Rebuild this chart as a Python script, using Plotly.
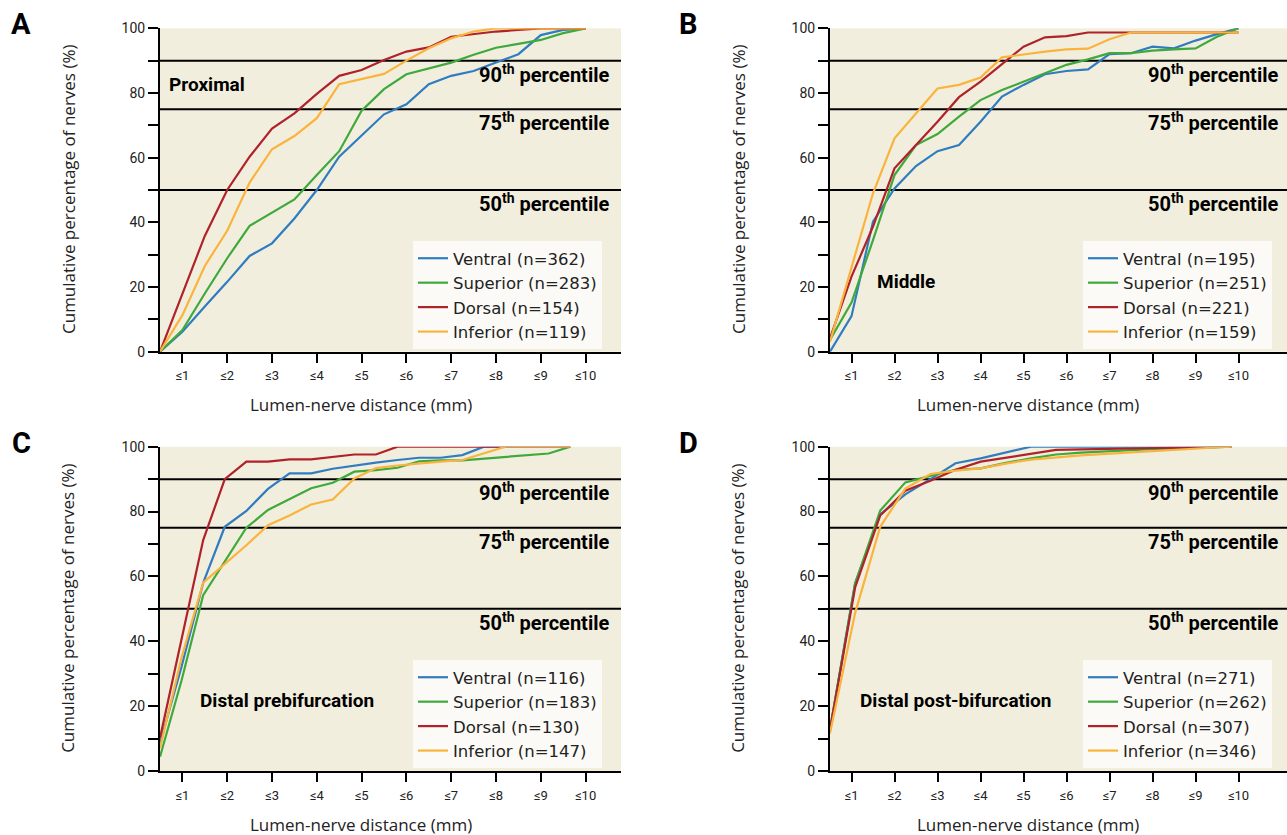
import plotly.graph_objects as go

# ---------------- data ----------------
distance_ticks = [1, 2, 3, 4, 5, 6, 7, 8, 9, 10]
distance_labels = ["≤1", "≤2", "≤3", "≤4", "≤5", "≤6", "≤7", "≤8", "≤9", "≤10"]
pct_ticks = [0, 20, 40, 60, 80, 100]
pct_labels = ["0", "20", "40", "60", "80", "100"]
pct_minor_ticks = [10, 30, 50, 70, 90]
series_names = ["Ventral", "Superior", "Dorsal", "Inferior"]
series_colors = ["#2f7dc0", "#3fa93c", "#b0222a", "#fab33c"]
percentiles = [90, 75, 50]

# Panel A - Proximal
proximal_n = [362, 283, 154, 119]
proximal_ventral = [0, 6.2, 14, 21.6, 29.6, 33.5, 41.2, 50, 60.3, 67, 73.4, 76.5, 82.7, 85.3, 86.8, 89.4, 92, 97.9, 99.5, 100]
proximal_superior = [0, 6.7, 18, 28.9, 38.9, 43, 47.1, 54.6, 62, 74.5, 81.2, 85.8, 87.6, 89.4, 91.8, 94, 95.2, 96.4, 98.5, 100]
proximal_dorsal = [0, 18, 35.8, 50, 60.3, 69, 73.7, 79.7, 85.3, 87.1, 90.2, 92.8, 94.1, 97.4, 98.2, 99, 99.5, 100, 100, 100]
proximal_inferior = [0, 11.3, 26.5, 37.4, 52.3, 62.6, 66.7, 72.2, 82.7, 84.2, 85.9, 90, 93.8, 96.9, 99, 100, 100, 100, 100, 100]

# Panel B - Middle
middle_n = [195, 251, 221, 159]
middle_ventral = [0, 11, 40.2, 50.5, 57.4, 62, 63.9, 71.1, 78.9, 82.5, 85.8, 86.8, 87.3, 92, 92.3, 94.3, 93.8, 96.2, 98.2, 100]
middle_superior = [3.6, 15.2, 34.5, 54.6, 63.9, 67.3, 72.7, 77.8, 80.9, 83.5, 86.1, 88.7, 90.4, 92.3, 92.3, 93.1, 93.5, 93.8, 97.4, 100]
middle_dorsal = [4.1, 23.2, 38.7, 56.7, 63.9, 71.1, 78.7, 83.5, 88.9, 94.3, 97.2, 97.6, 98.7, 98.7, 98.7, 98.7, 98.7, 98.7, 98.7, 98.7]
middle_inferior = [3.1, 25.8, 49, 66, 73.7, 81.4, 82.5, 84.8, 91, 92, 92.8, 93.5, 93.7, 96.6, 98.7, 98.7, 98.7, 98.7, 98.7, 98.7]

# Panel C - Distal prebifurcation
prebif_n = [116, 183, 130, 147]
prebif_ventral = [8.6, 32.2, 58, 75.3, 80.2, 87, 91.8, 91.8, 93.2, 94.2, 95.1, 95.9, 96.6, 96.6, 97.4, 100, 100, 100, 100, 100]
prebif_superior = [4.4, 28, 54.2, 64.7, 75, 80.5, 83.8, 87.2, 88.9, 92.3, 92.8, 93.5, 95.5, 95.8, 95.8, 96.3, 96.9, 97.4, 97.9, 100]
prebif_dorsal = [10.2, 40.4, 71.2, 90, 95.4, 95.4, 96.1, 96.1, 96.9, 97.6, 97.6, 100, 100, 100, 100, 100, 100, 100, 100, 100]
prebif_inferior = [7, 35, 58.1, 63.9, 69.6, 75.8, 78.8, 82.2, 83.7, 90.2, 93.4, 94.2, 94.9, 95.4, 95.9, 98, 100, 100, 100, 100]

# Panel D - Distal post-bifurcation
postbif_n = [271, 262, 307, 346]
postbif_ventral = [12.7, 58, 79.1, 85.3, 90, 94.9, 96.4, 98.3, 100, 100, 100, 100, 100, 100, 100, 100, 100]
postbif_superior = [12.7, 57.7, 80.3, 89, 91, 92.9, 93.3, 95, 96.4, 97.6, 98.2, 98.6, 99, 99.3, 99.5, 99.8, 100]
postbif_dorsal = [12.7, 56.6, 78.8, 86.4, 89.5, 92.9, 95.4, 96.6, 97.8, 99, 99.2, 99.4, 99.5, 99.6, 99.7, 99.8, 100]
postbif_inferior = [11.6, 48.7, 75.3, 87.1, 91.6, 92.6, 93.3, 94.8, 96, 96.7, 97.3, 97.8, 98.3, 98.8, 99.2, 99.6, 100]

# ---------------- layout helpers ----------------
W, H = 1287, 835
BOLDF = "Roboto, Liberation Sans, sans-serif"
TICKF = "Roboto, Liberation Sans, sans-serif"
REG = "Open Sans, Liberation Sans, sans-serif"
LEGF = "DejaVu Sans, Open Sans, sans-serif"
BG = "#f2eedd"

def px(x):
    return x / W

def py(y):
    return 1 - y / H

panels = [
    dict(key="A", title="Proximal", n=proximal_n,
         values=[proximal_ventral, proximal_superior, proximal_dorsal, proximal_inferior],
         step=0.5, left=160, right=621, top=28.3, bottom=351.7, pxunit=44.8,
         label_xy=(167, 84.5), legend_xy=(413, 241), pct_right=611,
         ytitle_x=68, xtitle_xy=(361, 405), letter_xy=(9, 24)),
    dict(key="B", title="Middle", n=middle_n,
         values=[middle_ventral, middle_superior, middle_dorsal, middle_inferior],
         step=0.5, left=830, right=1287, top=28.3, bottom=351.7, pxunit=43.0,
         label_xy=(875, 281), legend_xy=(1083, 241), pct_right=1280,
         ytitle_x=738, xtitle_xy=(1028, 405), letter_xy=(677, 24)),
    dict(key="C", title="Distal prebifurcation", n=prebif_n,
         values=[prebif_ventral, prebif_superior, prebif_dorsal, prebif_inferior],
         step=0.482, left=160, right=621, top=446.7, bottom=771, pxunit=44.8,
         label_xy=(198, 700), legend_xy=(413, 660), pct_right=611,
         ytitle_x=68, xtitle_xy=(361, 824), letter_xy=(10, 443)),
    dict(key="D", title="Distal post-bifurcation", n=postbif_n,
         values=[postbif_ventral, postbif_superior, postbif_dorsal, postbif_inferior],
         step=0.584, left=830, right=1287, top=446.7, bottom=771, pxunit=43.0,
         label_xy=(858, 700), legend_xy=(1083, 660), pct_right=1280,
         ytitle_x=738, xtitle_xy=(1028, 824), letter_xy=(677, 443)),
]

fig = go.Figure()
annotations = []
shapes = []
layout_axes = {}

for k, p in enumerate(panels):
    idx = "" if k == 0 else str(k + 1)
    xa, ya = "x" + idx, "y" + idx
    leg = "legend" + idx
    for name, col, n, vals in zip(series_names, series_colors, p["n"], p["values"]):
        xs = [0.5 + p["step"] * i for i in range(len(vals))]
        fig.add_trace(go.Scatter(
            x=xs, y=vals, mode="lines", name=f"{name} (n={n})",
            line=dict(color=col, width=2.2), xaxis=xa, yaxis=ya, legend=leg,
            hoverinfo="skip"))

    xmax = 0.5 + (p["right"] - p["left"]) / p["pxunit"]
    layout_axes["xaxis" + idx] = dict(
        domain=[px(p["left"]), px(p["right"])], range=[0.5, xmax], anchor=ya,
        tickmode="array", tickvals=distance_ticks, ticktext=distance_labels,
        ticks="outside", ticklen=9, tickwidth=1.5, tickcolor="black",
        showline=True, linecolor="black", linewidth=2, showgrid=False, zeroline=False,
        tickfont=dict(family=TICKF, size=13, color="#222"), ticklabelstandoff=2,
        automargin=False, fixedrange=True)
    layout_axes["yaxis" + idx] = dict(
        domain=[py(p["bottom"]), py(p["top"])], range=[0, 100], anchor=xa,
        tickmode="array", tickvals=pct_ticks, ticktext=pct_labels,
        ticks="outside", ticklen=10, tickwidth=1.5, tickcolor="black",
        minor=dict(tickmode="array", tickvals=pct_minor_ticks, ticks="outside", ticklen=10,
                   tickwidth=1.5, tickcolor="black", showgrid=False),
        showline=True, linecolor="black", linewidth=2, showgrid=False, zeroline=False,
        tickfont=dict(family=TICKF, size=14, color="#222"),
        automargin=False, fixedrange=True)
    layout_axes[leg] = dict(
        x=px(p["legend_xy"][0]), y=py(p["legend_xy"][1]), xanchor="left", yanchor="top",
        xref="paper", yref="paper",
        bgcolor="#fbfaf6", borderwidth=0, font=dict(family=LEGF, size=16.5, color="#222"),
        tracegroupgap=0, itemwidth=30)

    for v in percentiles:
        shapes.append(dict(type="line", xref=xa + " domain", x0=0, x1=1, yref=ya, y0=v, y1=v,
                           line=dict(color="black", width=2), layer="below"))
        annotations.append(dict(
            text=f"<b>{v}<sup>th</sup> percentile</b>", xref="paper", x=px(p["pct_right"]),
            xanchor="right", yref=ya, y=v, yanchor="middle", yshift=-13, showarrow=False,
            font=dict(family=BOLDF, size=20, color="black")))
    annotations.append(dict(
        text=f"<b>{p['title']}</b>", xref="paper", yref="paper",
        x=px(p["label_xy"][0]), y=py(p["label_xy"][1]), xanchor="left", yanchor="middle",
        showarrow=False, font=dict(family=BOLDF, size=19, color="black")))
    annotations.append(dict(
        text="Cumulative percentage of nerves (%)", xref="paper", yref="paper",
        x=px(p["ytitle_x"]), y=py((p["top"] + p["bottom"]) / 2), xanchor="center", yanchor="middle",
        textangle=-90, showarrow=False, font=dict(family=REG, size=17, color="#222")))
    annotations.append(dict(
        text="Lumen-nerve distance (mm)", xref="paper", yref="paper",
        x=px(p["xtitle_xy"][0]), y=py(p["xtitle_xy"][1]), xanchor="center", yanchor="middle",
        showarrow=False, font=dict(family=REG, size=17, color="#222")))
    annotations.append(dict(
        text=f"<b>{p['key']}</b>", xref="paper", yref="paper",
        x=px(p["letter_xy"][0]), y=py(p["letter_xy"][1]), xanchor="left", yanchor="middle",
        showarrow=False, font=dict(family=BOLDF, size=29, color="black")))

fig.update_layout(
    width=W, height=H, margin=dict(l=0, r=0, t=0, b=0, pad=0, autoexpand=False),
    paper_bgcolor="white", plot_bgcolor=BG, showlegend=True,
    annotations=annotations, shapes=shapes, **layout_axes)

fig.write_html("out.html", config={"displayModeBar": False},
               post_script="document.body.style.margin='0px';")
